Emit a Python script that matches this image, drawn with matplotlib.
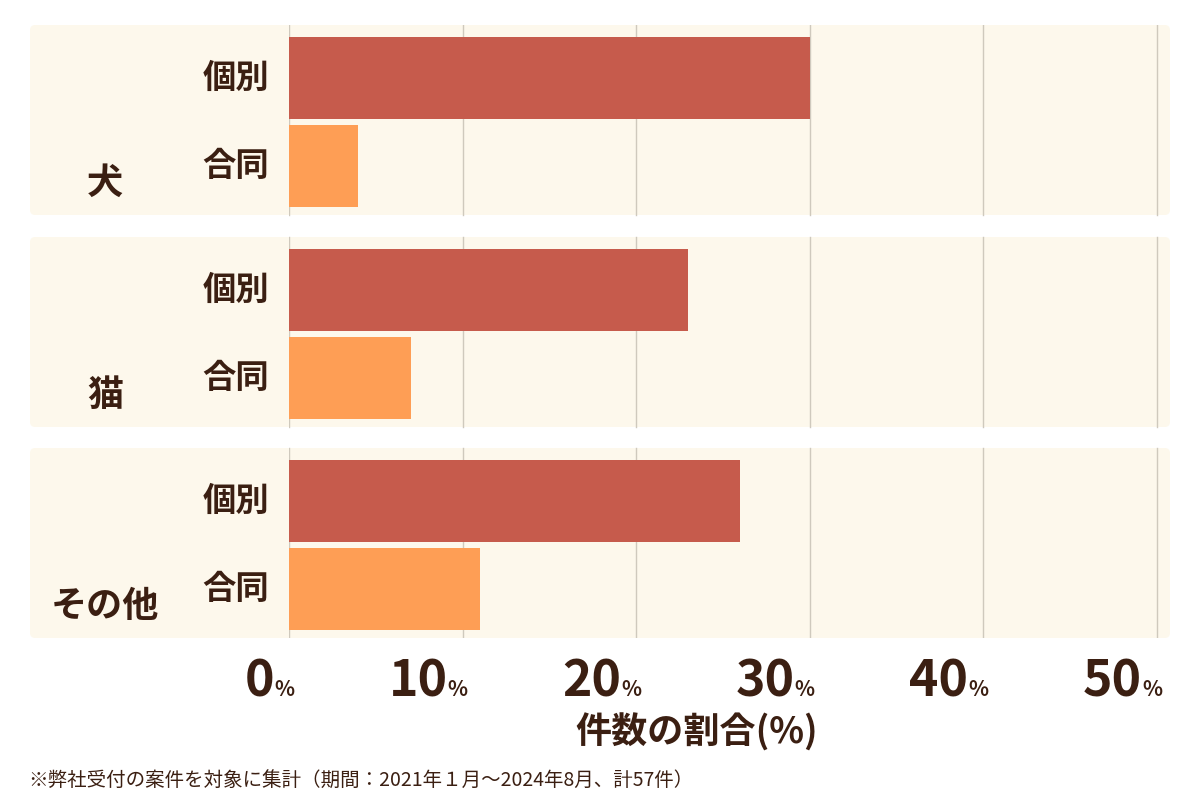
import matplotlib
matplotlib.use('Agg')
import matplotlib.pyplot as plt
from matplotlib.patches import FancyBboxPatch

plt.rcParams['font.family'] = ['Noto Sans CJK JP', 'DejaVu Sans']

animals = ['犬', '猫', 'その他']
kinds = ['個別', '合同']
kobetsu = [30.0, 23.0, 26.0]
goudou = [4.0, 7.0, 11.0]
ticks = [0, 10, 20, 30, 40, 50]

dark = '#3b1f12'
c_kobetsu = '#c65b4c'
c_goudou = '#fe9e55'
panel_bg = '#fdf8ec'

W, H = 1200, 800
fig = plt.figure(figsize=(12, 8), dpi=100)
# axes in pixel geometry: x 289..1170, y 25..638
px = 17.36  # pixels per percent
ax = fig.add_axes([289 / W, 1 - 638 / H, (1170 - 289) / W, (638 - 25) / H])
ax.set_xlim(0, (1170 - 289) / px)
ax.set_ylim(638, 25)
ax.axis('off')

x_left = (30 - 289) / px
panel_tops = [25, 237, 448]
panel_h = 190
for i, top in enumerate(panel_tops):
    ax.add_patch(FancyBboxPatch((x_left, top), ax.get_xlim()[1] - x_left, panel_h,
                                boxstyle='round,pad=0,rounding_size=0.3', fc=panel_bg,
                                ec='none', clip_on=False, zorder=0,
                                mutation_aspect=px))
    for t in ticks[1:]:
        ax.plot([t, t], [top, top + panel_h], color='#cfc9bd', lw=1, zorder=1)
    ax.plot([0, 0], [top, top + panel_h], color='#cfc9bd', lw=1, zorder=1)
    c1 = top + 53
    c2 = top + 141
    ax.barh(c1, kobetsu[i], height=82, color=c_kobetsu, zorder=2)
    ax.barh(c2, goudou[i], height=82, color=c_goudou, zorder=2)
    fig.text(236 / W, 1 - c1 / H, kinds[0], ha='center', va='center',
             fontsize=24, fontweight='bold', color=dark)
    fig.text(236 / W, 1 - c2 / H, kinds[1], ha='center', va='center',
             fontsize=24, fontweight='bold', color=dark)
    fig.text(105 / W, 1 - (top + 158) / H, animals[i], ha='center', va='center',
             fontsize=26, fontweight='bold', color=dark)

for t in ticks:
    x = (289 + t * px) / W
    fig.text(x - 15 / W, 1 - 682 / H, str(t), ha='right', va='center',
             fontsize=36, fontweight='bold', color=dark)
    fig.text(x - 15 / W, 1 - 690 / H, '%', ha='left', va='center',
             fontsize=15, fontweight='bold', color=dark)

fig.text(697 / W, 1 - 733 / H, '件数の割合(%)', ha='center', va='center',
         fontsize=26, fontweight='bold', color=dark)
fig.text(28 / W, 1 - 780 / H, '※弊社受付の案件を対象に集計（期間：2021年１月～2024年8月、計57件）',
         ha='left', va='center', fontsize=14, color=dark)

fig.savefig('out.png', facecolor='white')
